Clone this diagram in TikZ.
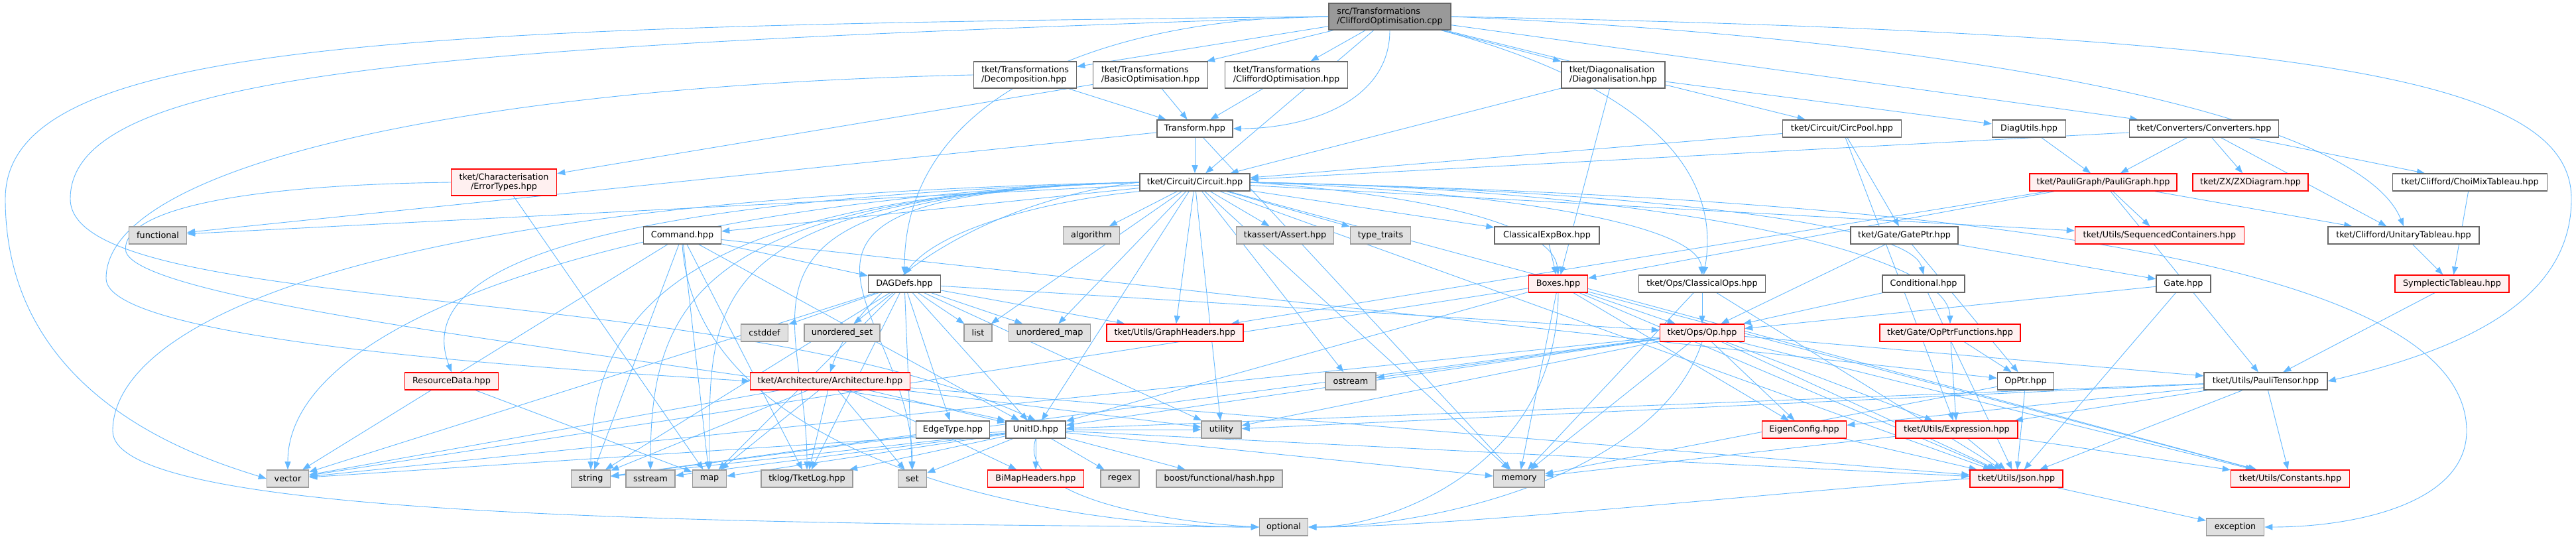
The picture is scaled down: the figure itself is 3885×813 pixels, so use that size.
\documentclass[tikz,border=0pt]{standalone}
\usepackage{fontspec}
\setmainfont{DejaVu Sans}
\usetikzlibrary{arrows.meta, backgrounds}
\definecolor{edgeblue}{RGB}{99,184,255}
\definecolor{hdrline}{RGB}{102,102,102}
\definecolor{sysfill}{RGB}{224,224,224}
\definecolor{sysline}{RGB}{153,153,153}
\definecolor{truncfill}{RGB}{255,240,240}
\definecolor{truncline}{RGB}{255,0,0}
\definecolor{rootfill}{RGB}{153,153,153}

\tikzset{
  hdr/.style={draw=hdrline, fill=white, line width=1.5pt, inner sep=0pt,
              minimum height=26pt, font=\fontsize{12.8}{14.5}\selectfont},
  sys/.style={hdr, draw=sysline, fill=sysfill},
  trunc/.style={hdr, draw=truncline, fill=truncfill},
  rootfile/.style={hdr, fill=rootfill, minimum height=40pt, align=left},
  twoline/.style={minimum height=40pt, align=left},
  inc/.style={draw=edgeblue, line width=0.9pt, -{Triangle[length=12pt,width=9pt]}},
}

\begin{document}
\begin{tikzpicture}[x=1pt, y=-1pt]
  \useasboundingbox (0,0) rectangle (3885,813);

  % the file itself
  \node[rootfile, minimum width=184pt] (src) at (2096,25)
    {src/Transformations\\/CliffordOptimisation.cpp};

  % project headers
  \node[hdr, twoline, minimum width=155pt] (dec) at (1546,113) {tket/Transformations\\/Decomposition.hpp};
  \node[hdr, twoline, minimum width=173pt] (basic) at (1735,113) {tket/Transformations\\/BasicOptimisation.hpp};
  \node[hdr, twoline, minimum width=185pt] (cliffh) at (1940,113) {tket/Transformations\\/CliffordOptimisation.hpp};
  \node[hdr, twoline, minimum width=156pt] (diag) at (2433,113) {tket/Diagonalisation\\/Diagonalisation.hpp};
  \node[hdr, minimum width=114pt] (transform) at (1802,194) {Transform.hpp};
  \node[hdr, minimum width=179pt] (circpool) at (2778,194) {tket/Circuit/CircPool.hpp};
  \node[hdr, minimum width=111pt] (diagutils) at (3060,194) {DiagUtils.hpp};
  \node[hdr, minimum width=225pt] (converters) at (3324,194) {tket/Converters/Converters.hpp};
  \node[hdr, minimum width=166pt] (circuit) at (1802,275) {tket/Circuit/Circuit.hpp};
  \node[trunc, twoline, align=center, minimum width=159pt] (errtypes) at (760,275) {tket/Characterisation\\/ErrorTypes.hpp};
  \node[trunc, minimum width=222pt] (pauligraph) at (3172,275) {tket/PauliGraph/PauliGraph.hpp};
  \node[trunc, minimum width=174pt] (zx) at (3394,275) {tket/ZX/ZXDiagram.hpp};
  \node[hdr, minimum width=233pt] (choimix) at (3725,275) {tket/Clifford/ChoiMixTableau.hpp};
  \node[hdr, minimum width=117pt] (command) at (1029,355) {Command.hpp};
  \node[hdr, minimum width=158pt] (classexp) at (2333,355) {ClassicalExpBox.hpp};
  \node[hdr, minimum width=162pt] (gateptr) at (2872,355) {tket/Gate/GatePtr.hpp};
  \node[trunc, minimum width=255pt] (seqcont) at (3257,355) {tket/Utils/SequencedContainers.hpp};
  \node[hdr, minimum width=228pt] (unitary) at (3625,355) {tket/Clifford/UnitaryTableau.hpp};
  \node[hdr, minimum width=109pt] (dagdefs) at (1364,428) {DAGDefs.hpp};
  \node[trunc, minimum width=89pt] (boxes) at (2350,428) {Boxes.hpp};
  \node[hdr, minimum width=191pt] (classops) at (2567,428) {tket/Ops/ClassicalOps.hpp};
  \node[hdr, minimum width=124pt] (conditional) at (2901,428) {Conditional.hpp};
  \node[hdr, minimum width=82pt] (gate) at (3293,428) {Gate.hpp};
  \node[trunc, minimum width=172pt] (symplectic) at (3698,428) {SymplecticTableau.hpp};
  \node[trunc, minimum width=206pt] (graphhdr) at (1772,502) {tket/Utils/GraphHeaders.hpp};
  \node[trunc, minimum width=127pt] (op) at (2567,502) {tket/Ops/Op.hpp};
  \node[trunc, minimum width=212pt] (opptrfn) at (2941,502) {tket/Gate/OpPtrFunctions.hpp};
  \node[trunc, minimum width=141pt] (resdata) at (681,575) {ResourceData.hpp};
  \node[trunc, minimum width=241pt] (arch) at (1252,575) {tket/Architecture/Architecture.hpp};
  \node[hdr, minimum width=85pt] (opptr) at (3055,575) {OpPtr.hpp};
  \node[hdr, minimum width=186pt] (paulitensor) at (3417,575) {tket/Utils/PauliTensor.hpp};
  \node[hdr, minimum width=111pt] (edgetype) at (1437,648) {EdgeType.hpp};
  \node[hdr, minimum width=90pt] (unitid) at (1562,648) {UnitID.hpp};
  \node[trunc, minimum width=127pt] (eigen) at (2721,648) {EigenConfig.hpp};
  \node[trunc, minimum width=184pt] (expression) at (2951,648) {tket/Utils/Expression.hpp};
  \node[trunc, minimum width=145pt] (bimap) at (1562,722) {BiMapHeaders.hpp};
  \node[trunc, minimum width=140pt] (json) at (3041,722) {tket/Utils/Json.hpp};
  \node[trunc, minimum width=179pt] (constants) at (3454,722) {tket/Utils/Constants.hpp};

  % system headers
  \node[sys, minimum width=87pt] (functional) at (238,355) {functional};
  \node[sys, minimum width=85pt] (algorithm) at (1646,355) {algorithm};
  \node[sys, minimum width=147pt] (tkassert) at (1938,355) {tkassert/Assert.hpp};
  \node[sys, minimum width=91pt] (typetraits) at (2082,355) {type\_traits};
  \node[sys, minimum width=71pt] (cstddef) at (1153,502) {cstddef};
  \node[sys, minimum width=114pt] (uset) at (1270,502) {unordered\_set};
  \node[sys, minimum width=42pt] (list) at (1475,502) {list};
  \node[sys, minimum width=123pt] (umap) at (1583,502) {unordered\_map};
  \node[sys, minimum width=76pt] (ostream) at (2037,575) {ostream};
  \node[sys, minimum width=60pt] (utility) at (1842,648) {utility};
  \node[sys, minimum width=63pt] (vector) at (434,722) {vector};
  \node[sys, minimum width=59pt] (string) at (891,722) {string};
  \node[sys, minimum width=74pt] (sstream) at (981,722) {sstream};
  \node[sys, minimum width=51pt] (map) at (1070,722) {map};
  \node[sys, minimum width=138pt] (tklog) at (1217,722) {tklog/TketLog.hpp};
  \node[sys, minimum width=43pt] (set) at (1376,722) {set};
  \node[sys, minimum width=58pt] (regex) at (1689,722) {regex};
  \node[sys, minimum width=190pt] (boosthash) at (1839,722) {boost/functional/hash.hpp};
  \node[sys, minimum width=77pt] (memory) at (2291,722) {memory};
  \node[sys, minimum width=73pt] (optional) at (1936,795) {optional};
  \node[sys, minimum width=87pt] (exception) at (3371,795) {exception};

  \begin{scope}[on background layer]
    % includes drawn straight
    \foreach \s/\t in {src/dec, src/basic, src/cliffh, src/circuit, src/diag,
        src/circpool, src/converters, dec/transform, basic/transform,
        basic/errtypes, cliffh/transform, diag/circuit, diag/boxes,
        diag/diagutils, diagutils/pauligraph, converters/circuit,
        converters/pauligraph, converters/zx, converters/unitary,
        converters/choimix, pauligraph/seqcont, pauligraph/unitary,
        pauligraph/paulitensor, pauligraph/graphhdr, pauligraph/boxes,
        choimix/symplectic, unitary/symplectic, symplectic/paulitensor,
        circpool/circuit, circpool/gateptr, circpool/expression,
        transform/circuit, transform/memory, transform/functional,
        errtypes/map, classexp/boxes, resdata/map, edgetype/string}
      \draw[inc] (\s) -- (\t);
    \foreach \t in {algorithm, tkassert, typetraits, classexp, command,
        functional, list, umap, graphhdr, seqcont, memory, utility, unitid,
        ostream, json, constants}
      \draw[inc] (circuit) -- (\t);
    \foreach \t in {vector, string, sstream, map, tklog, set}
      \draw[inc] (circuit.west) .. controls (1050,295) and ([yshift=250pt]\t.north) .. (\t.north);
    \foreach \t in {dagdefs, unitid, opptr, map, tklog, string, vector}
      \draw[inc] (command) -- (\t);
    \foreach \t in {cstddef, uset, list, umap, graphhdr, edgetype, unitid,
        utility, op, vector, string, map, tklog, set}
      \draw[inc] (dagdefs) -- (\t);
    \foreach \t in {unitid, tklog, set, bimap, utility, vector, string, map, json}
      \draw[inc] (arch) -- (\t);
    \foreach \t in {bimap, regex, boosthash, map, set, json, memory, string,
        vector, utility, sstream, tklog}
      \draw[inc] (unitid) -- (\t);
    \foreach \t in {op, memory, eigen, json, unitid, vector, constants}
      \draw[inc] (boxes) -- (\t);
    \foreach \s/\t in {classops/op, classops/json, classops/memory,
        conditional/op, conditional/json, gateptr/gate, gateptr/opptr,
        gateptr/op, gate/op, gate/json, opptrfn/opptr, opptrfn/expression,
        opptr/json, opptr/memory, expression/json, expression/constants,
        expression/memory, eigen/json, json/exception}
      \draw[inc] (\s) -- (\t);
    \foreach \t in {ostream, memory, eigen, expression, json, constants,
        paulitensor, unitid, vector, string, utility}
      \draw[inc] (op) -- (\t);
    \foreach \t in {json, constants, expression, eigen, unitid, utility}
      \draw[inc] (paulitensor) -- (\t);

    % includes drawn around the other boxes
    \draw[inc] (src) to[out=-90, in=0] (transform);
    \draw[inc] (src) to[out=180, in=90] (dagdefs);
    \draw[inc] (src) to[out=-15, in=80] (classops);
    \draw[inc] (src.east) .. controls (3000,60) and (3560,180) .. (unitary.north);
    \draw[inc] (src.east) .. controls (3500,50) and (3878,120) .. (3878,300)
      .. controls (3878,460) and (3700,530) .. (paulitensor.east);
    \draw[inc] (src.west) .. controls (600,40) and (8,60) .. (8,300)
      .. controls (8,600) and (300,690) .. (vector.west);
    \draw[inc] (src.west) .. controls (700,70) and (106,100) .. (106,300)
      .. controls (106,480) and (1100,420) .. (unitid.north);
    \draw[inc] (dec.west) .. controls (700,130) and (160,250) .. (160,420)
      .. controls (160,520) and (900,560) .. (arch.west);
    \draw[inc] (errtypes.west) .. controls (300,280) and (180,330) .. (190,380)
      .. controls (220,470) and (1200,560) .. (unitid.north west);
    \draw[inc] (circuit.south west) .. controls (1600,300) and (1420,340) .. (dagdefs.north);
    \draw[inc] (circuit.west) .. controls (1500,300) and (1300,420) .. (arch.north);
    \draw[inc] (circuit.east) .. controls (2100,290) and (2340,330) .. (boxes.north);
    \draw[inc] (circuit.east) .. controls (2200,285) and (2560,330) .. (classops.north);
    \draw[inc] (circuit.east) .. controls (2400,285) and (2880,330) .. (conditional.north);
    \draw[inc] (circuit.east) .. controls (2500,285) and (2940,380) .. (opptrfn.north);
    \draw[inc] (circuit.west) .. controls (900,300) and (620,400) .. (resdata.north);
    \draw[inc] (circuit.east) .. controls (3000,300) and (3720,400) .. (3720,650)
      .. controls (3720,760) and (3550,795) .. (exception.east);
    \draw[inc] (circuit.west) .. controls (500,300) and (170,500) .. (170,650)
      .. controls (170,770) and (900,790) .. (optional.west);
    \draw[inc] (command.south) .. controls (1050,700) and (1600,795) .. (optional.west);
    \draw[inc] (unitid.south) .. controls (1530,760) and (1800,790) .. (optional.west);
    \draw[inc] (boxes.south) .. controls (2350,700) and (2100,795) .. (optional.east);
    \draw[inc] (op.south) .. controls (2500,720) and (2150,795) .. (optional.east);
    \draw[inc] (json.west) .. controls (2700,740) and (2200,795) .. (optional.east);
  \end{scope}
\end{tikzpicture}
\end{document}
